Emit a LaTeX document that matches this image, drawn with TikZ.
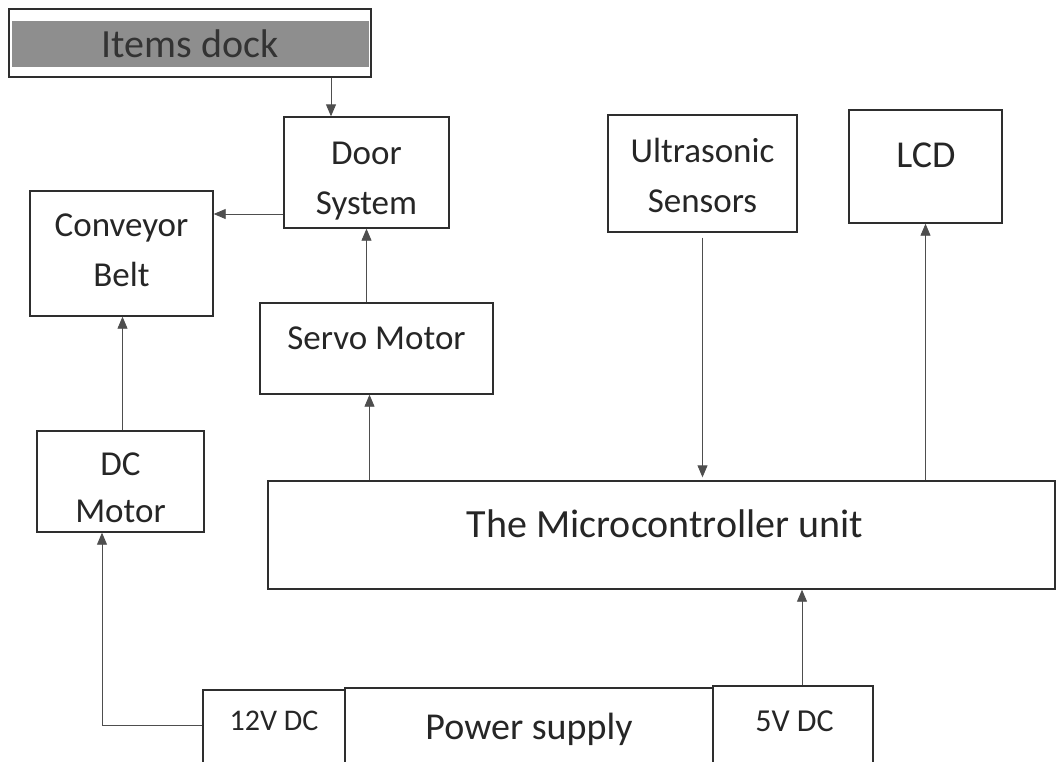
\documentclass[tikz,border=0pt]{standalone}
\usepackage{fontspec}
\setmainfont{Carlito}
\usetikzlibrary{arrows.meta}
\definecolor{inkline}{HTML}{2E2E2E}
\definecolor{arrline}{HTML}{4E4E4E}
\definecolor{dockgray}{HTML}{8E8E8E}
\definecolor{docktext}{HTML}{333333}

\begin{document}
\begin{tikzpicture}[x=1pt,y=-1pt,
    blok/.style={draw=inkline, line width=1.4pt, inner sep=0pt},
    lbl/.style={text=black!85, inner sep=0pt, align=center},
    arr/.style={draw=arrline, line width=0.9pt, -{Triangle[length=12pt,width=10pt]}}]
    \useasboundingbox (0,0) rectangle (1058,761);
    \clip (0,0) rectangle (1058,761);
    % items dock, gray band behind the text
    \fill[dockgray] (12,21) rectangle (369,67);
    \node[blok, minimum width=362, minimum height=68] (dock) at (190,43) {};
    \node[lbl, text=docktext, font=\fontsize{40}{40}\selectfont, anchor=base] (docktxt) at (190,57) {Items dock};
    % upper row
    \node[blok, minimum width=165, minimum height=111] (door) at (366.5,172.5) {};
    \node[lbl, font=\fontsize{35}{50}\selectfont] (doortxt) at (366.5,181) {Door\\System};
    \node[blok, minimum width=183, minimum height=125] (conv) at (121.5,253.5) {};
    \node[lbl, font=\fontsize{35}{50}\selectfont] (convtxt) at (121.5,250) {Conveyor\\Belt};
    \node[blok, minimum width=233, minimum height=91] (servo) at (376.5,348.5) {};
    \node[lbl, font=\fontsize{35}{35}\selectfont, anchor=base] (servotxt) at (376.5,349) {Servo Motor};
    \node[blok, minimum width=189, minimum height=117] (ultra) at (702.5,173.5) {};
    \node[lbl, font=\fontsize{35}{50}\selectfont] (ultratxt) at (702.5,175) {Ultrasonic\\Sensors};
    \node[blok, minimum width=153, minimum height=113] (lcd) at (925.5,166.5) {};
    \node[lbl, font=\fontsize{38}{38}\selectfont, anchor=base] (lcdtxt) at (926,167) {LCD};
    % lower part
    \node[blok, minimum width=167, minimum height=101] (dcm) at (120.5,481.5) {};
    \node[lbl, font=\fontsize{35}{47}\selectfont] (dcmtxt) at (120.5,488) {DC\\Motor};
    \node[blok, minimum width=787, minimum height=108] (mcu) at (661.5,535) {};
    \node[lbl, font=\fontsize{40}{40}\selectfont, anchor=base] (mcutxt) at (665,537) {The Microcontroller unit};
    \node[blok, minimum width=142, minimum height=90] (twelve) at (274,735) {};
    \node[lbl, font=\fontsize{30}{30}\selectfont, anchor=base] (twelvetxt) at (274,730) {12V DC};
    \node[blok, minimum width=368, minimum height=92] (power) at (529,734) {};
    \node[lbl, font=\fontsize{38}{38}\selectfont, anchor=base] (powertxt) at (529,739) {Power supply};
    \node[blok, minimum width=160, minimum height=94] (five) at (793,733) {};
    \node[lbl, font=\fontsize{32}{32}\selectfont, anchor=base] (fivetxt) at (794.5,731) {5V DC};
    % connections
    \draw[arr] ([xshift=-35.5]door.north |- dock.south) -- ([xshift=-35.5]door.north);
    \draw[arr] ([yshift=-41.5]door.west) -- ([yshift=-41.5]door.west -| conv.east);
    \draw[arr] (servo.north -| door.south) -- (door.south);
    \draw[arr] ([xshift=2]dcm.north) -- ([xshift=2]dcm.north |- conv.south);
    \draw[arr] ([yshift=10]twelve.west) -| ([xshift=-18.5]dcm.south);
    \draw[arr] ([xshift=-7]servo.south |- mcu.north) -- ([xshift=-7]servo.south);
    \draw[arr] ([yshift=-5]ultra.south) -- ([yshift=3]ultra.south |- mcu.north);
    \draw[arr] (lcd.south |- mcu.north) -- (lcd.south);
    \draw[arr] ([xshift=9]five.north) -- ([xshift=9]five.north |- mcu.south);
\end{tikzpicture}
\end{document}
